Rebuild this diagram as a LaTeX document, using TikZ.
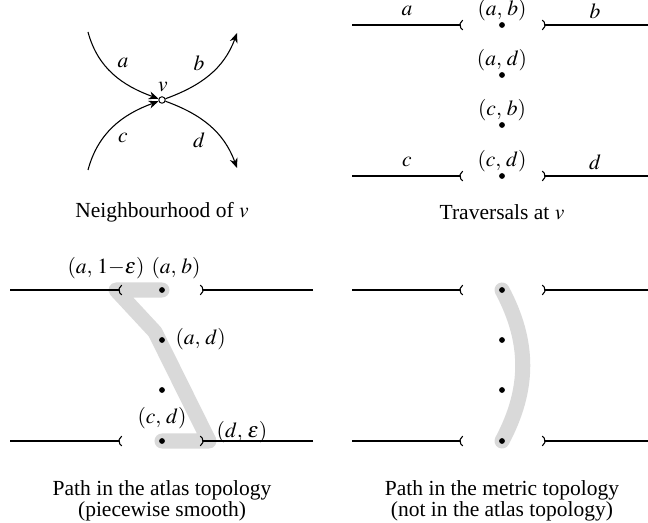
\documentclass[tikz,border=0pt]{standalone}
\usepackage{mathptmx}
\usepackage[no-math]{fontspec}
\setmainfont{Liberation Serif}
\usetikzlibrary{arrows.meta}
\definecolor{trailgray}{HTML}{D9D9D9}
\newcommand{\trv}[2]{(#1,\,#2)}
\tikzset{
  vdot/.style={circle, fill, inner sep=0pt, minimum size=2.7pt},
  vopen/.style={circle, draw, line width=0.45pt, inner sep=0pt, minimum size=3pt},
  edgeline/.style={line width=0.5pt},
  openend/.style={edgeline, -{Parenthesis[reversed]}},
  flow/.style={-{Stealth[length=1.6mm, width=1.3mm, inset=0.5mm]}, line width=0.5pt},
  trail/.style={trailgray, line width=7pt, line cap=round, line join=round},
  caption/.style={align=center},
}

\begin{document}
\begin{tikzpicture}[x=0.465pt, y=0.465pt]
  \useasboundingbox (0,0) rectangle (648,522);

  % neighbourhood of v
  \node[vopen] (v) at (162,422) {};
  \node[inner sep=0pt] (vlab) at (163,435) {$v$};
  \coordinate (ain) at (88,490);
  \coordinate (cin) at (88,352);
  \coordinate (bout) at (237,489);
  \coordinate (dout) at (237,354);
  \draw[flow] (ain) to[out=-75, in=160] (v);
  \draw[flow] (cin) to[out=75, in=200] (v);
  \draw[flow] (v) to[out=20, in=-110] (bout);
  \draw[flow] (v) to[out=-20, in=110] (dout);
  \node (alab) at (123,459) {$a$};
  \node (blab) at (199,459) {$b$};
  \node (clab) at (123,384) {$c$};
  \node (dlab) at (199,382) {$d$};
  \node[caption] (capnb) at (162,310) {Neighbourhood of $v$};

  % traversals at v
  \foreach \y/\l/\r [count=\i] in {497/a/b,447/a/d,397/c/b,346/c/d} {
    \node[vdot] (t\i) at (502,\y) {};
    \node (tl\i) at (502,\y+15) {$\trv{\l}{\r}$};
  }
  \foreach \y/\l/\r [count=\i] in {497/a/b,346/c/d} {
    \coordinate (tlo\i) at (352,\y);
    \coordinate (tli\i) at (463,\y);
    \coordinate (tro\i) at (648,\y);
    \coordinate (tri\i) at (542,\y);
    \draw[openend] (tlo\i) -- (tli\i);
    \draw[openend] (tro\i) -- (tri\i);
    \node (tle\i) at (407,\y+14) {$\l$};
    \node (tre\i) at (595,\y+14) {$\r$};
  }
  \node[caption] (captr) at (502,310) {Traversals at $v$};

  % path in the atlas topology
  \foreach \y [count=\i] in {232,182,132,81}
    \coordinate (p\i) at (162,\y);
  \coordinate (aeps) at (116,232);
  \coordinate (kink) at (155,190);
  \coordinate (deps) at (209,81);
  \draw[trail] (p1) -- (aeps) -- (kink) -- (deps) -- (p4);
  \foreach \p in {1,...,4}
    \node[vdot] (pd\p) at (p\p) {};
  \foreach \y [count=\i] in {232,81} {
    \coordinate (plo\i) at (10,\y);
    \coordinate (pli\i) at (122,\y);
    \coordinate (pro\i) at (313,\y);
    \coordinate (pri\i) at (200,\y);
    \draw[openend] (plo\i) -- (pli\i);
    \draw[openend] (pro\i) -- (pri\i);
  }
  \node (pae) at (106,254) {$\trv{a}{1{-}\varepsilon}$};
  \node (pab) at (176,254) {$\trv{a}{b}$};
  \node[anchor=west] (pad) at (168,183) {$\trv{a}{d}$};
  \node (pcd) at (162,104) {$\trv{c}{d}$};
  \node (pde) at (242,90) {$\trv{d}{\varepsilon}$};
  \node[caption] (capat) at (162,21) {Path in the atlas topology\\[-2pt](piecewise smooth)};

  % path in the metric topology
  \foreach \y [count=\i] in {232,182,132,81}
    \coordinate (q\i) at (502,\y);
  \draw[trail] (q1) to[bend left=28] (q4);
  \foreach \q in {1,...,4}
    \node[vdot] (qd\q) at (q\q) {};
  \foreach \y [count=\i] in {232,81} {
    \coordinate (qlo\i) at (352,\y);
    \coordinate (qli\i) at (463,\y);
    \coordinate (qro\i) at (648,\y);
    \coordinate (qri\i) at (542,\y);
    \draw[openend] (qlo\i) -- (qli\i);
    \draw[openend] (qro\i) -- (qri\i);
  }
  \node[caption] (capmt) at (502,21) {Path in the metric topology\\[-2pt](not in the atlas topology)};
\end{tikzpicture}
\end{document}
